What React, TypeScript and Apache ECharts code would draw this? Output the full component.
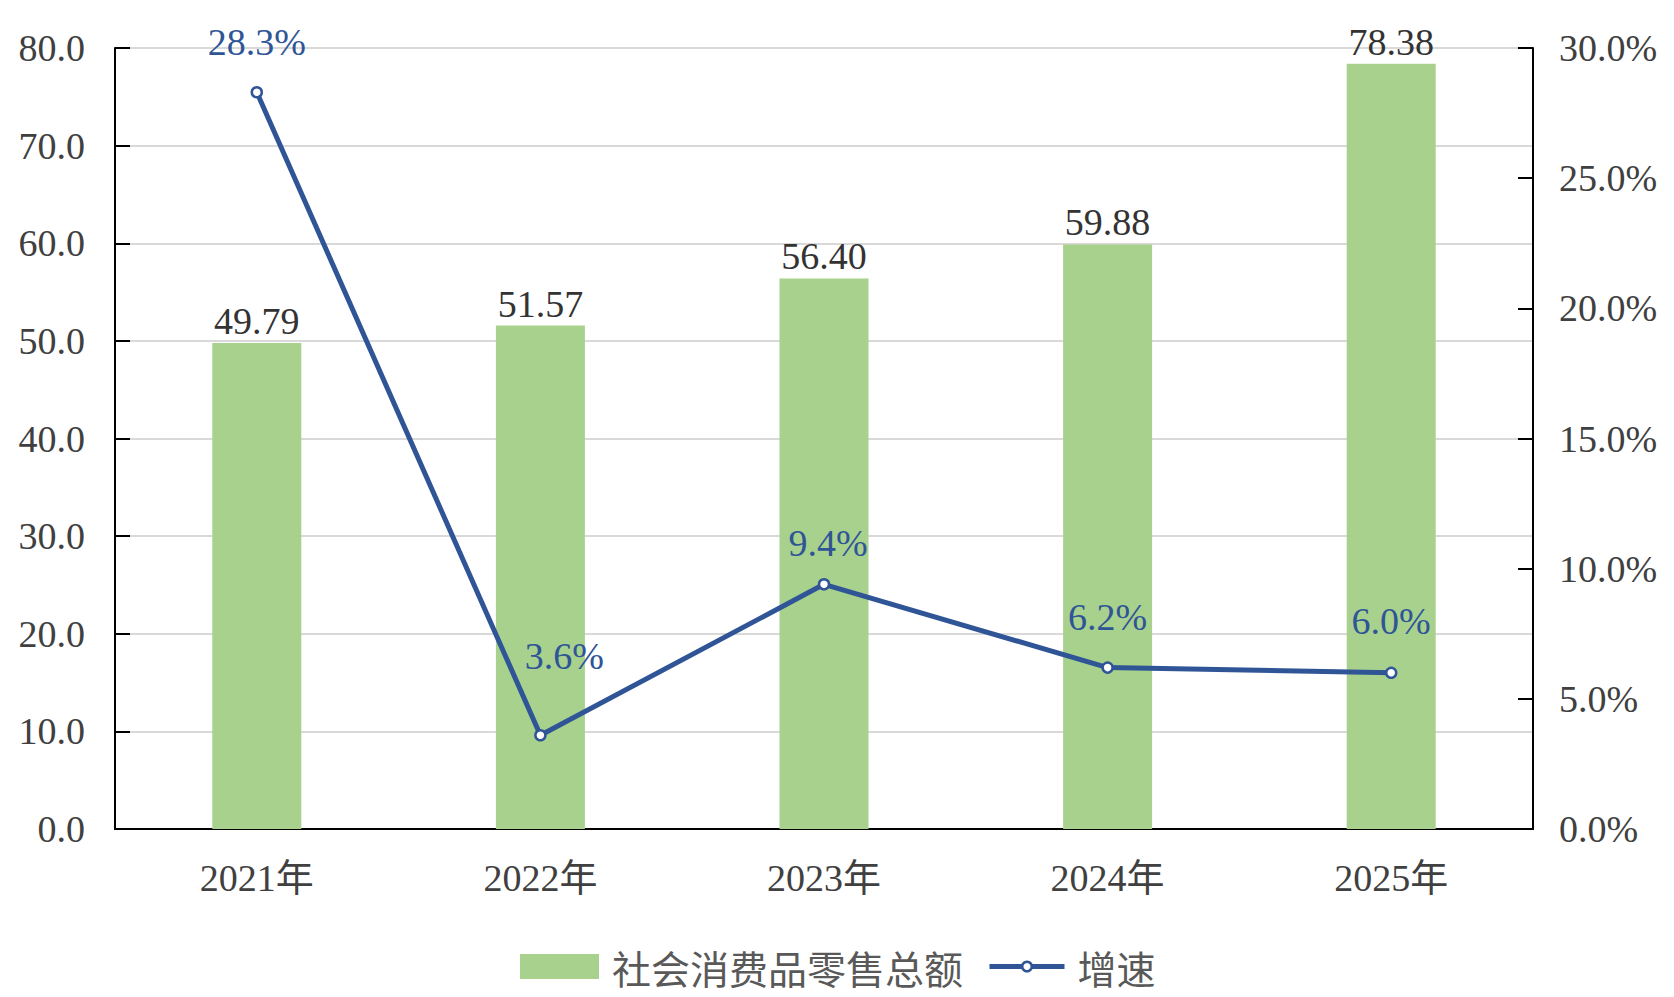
import React, { useEffect, useRef } from "react";
import * as echarts from "echarts";

const categories = ["2021年", "2022年", "2023年", "2024年", "2025年"];
const retailSales = [49.79, 51.57, 56.4, 59.88, 78.38];
const growthRate = [28.3, 3.6, 9.4, 6.2, 6.0];
const seriesNames = ["社会消费品零售总额", "增速"];

const labelOffsets: Array<[number, number]> = [
  [0, 0],
  [24, -29],
  [4, 9],
  [0, 0],
  [0, -2],
];

const SERIF = "'Liberation Serif', 'Times New Roman', 'Noto Sans CJK SC', serif";
const CJK = "'Noto Sans CJK SC', sans-serif";
const FS = 38;
const LINE_COLOR = "#2f5597";

const legendText = {
  fontFamily: CJK,
  fontSize: 39,
  color: "#595959",
  padding: [0, 0, 0, 8],
};

export default function App() {
  const ref = useRef<HTMLDivElement>(null);
  useEffect(() => {
    document.body.style.margin = "0";
    if (!ref.current) return;
    const chart = echarts.init(ref.current, undefined, { renderer: "svg" });
    chart.setOption({
      animation: false,
      backgroundColor: "#ffffff",
      grid: { left: 115, right: 141, top: 48, bottom: 168 },
      legend: [
        {
          bottom: 6,
          left: 515,
          itemWidth: 79,
          itemHeight: 25,
          textStyle: legendText,
          data: [{ name: seriesNames[0], icon: "rect" }],
        },
        {
          bottom: 6,
          left: 982,
          itemWidth: 75,
          itemHeight: 12,
          textStyle: legendText,
          lineStyle: { width: 5, color: LINE_COLOR },
          itemStyle: { color: "#ffffff", borderColor: LINE_COLOR, borderWidth: 2.5 },
          data: [{ name: seriesNames[1] }],
        },
      ],
      xAxis: {
        type: "category",
        data: categories,
        axisLine: { lineStyle: { color: "#000", width: 2 } },
        axisTick: { inside: true, length: 15, lineStyle: { color: "#000", width: 2 } },
        axisLabel: { fontFamily: SERIF, fontSize: FS, color: "#404040", margin: 30 },
      },
      yAxis: [
        {
          type: "value",
          min: 0,
          max: 80,
          interval: 10,
          axisLine: { show: true, lineStyle: { color: "#000", width: 2 } },
          axisTick: { show: true, inside: true, length: 15, lineStyle: { color: "#000", width: 2 } },
          axisLabel: {
            fontFamily: SERIF,
            fontSize: FS,
            color: "#404040",
            margin: 30,
            formatter: (v: number) => v.toFixed(1),
          },
          splitLine: { show: true, lineStyle: { color: "#d9d9d9", width: 2 } },
        },
        {
          type: "value",
          min: 0,
          max: 30,
          interval: 5,
          position: "right",
          axisLine: { show: true, lineStyle: { color: "#000", width: 2 } },
          axisTick: { show: true, inside: true, length: 15, lineStyle: { color: "#000", width: 2 } },
          axisLabel: {
            fontFamily: SERIF,
            fontSize: FS,
            color: "#404040",
            margin: 26,
            formatter: (v: number) => v.toFixed(1) + "%",
          },
          splitLine: { show: false },
        },
      ],
      series: [
        {
          name: seriesNames[0],
          type: "bar",
          yAxisIndex: 0,
          barWidth: 89,
          data: retailSales,
          itemStyle: { color: "#a9d18e" },
          label: {
            show: true,
            position: "top",
            distance: 3,
            fontFamily: SERIF,
            fontSize: FS,
            color: "#333333",
            formatter: (p: any) => Number(p.value).toFixed(2),
          },
        },
        {
          name: seriesNames[1],
          type: "line",
          yAxisIndex: 1,
          symbol: "circle",
          symbolSize: 10,
          lineStyle: { color: LINE_COLOR, width: 5 },
          itemStyle: { color: "#ffffff", borderColor: LINE_COLOR, borderWidth: 2.5 },
          data: growthRate.map((v, i) => ({
            value: v,
            label: { offset: labelOffsets[i] },
          })),
          label: {
            show: true,
            position: "top",
            distance: 25,
            fontFamily: SERIF,
            fontSize: FS,
            color: LINE_COLOR,
            formatter: (p: any) => Number(p.value).toFixed(1) + "%",
          },
        },
      ],
    });
    return () => chart.dispose();
  }, []);
  return <div ref={ref} style={{ width: 1674, height: 997 }} />;
}
